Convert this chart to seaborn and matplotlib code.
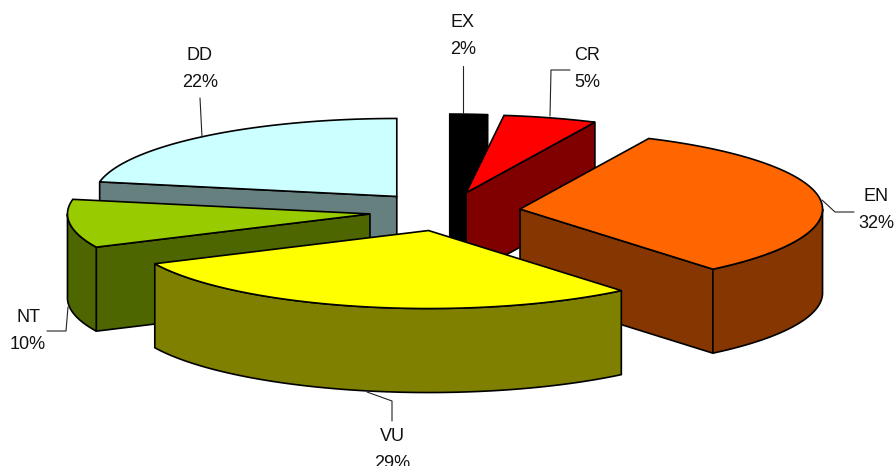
import numpy as np
import matplotlib
matplotlib.use("Agg")
import matplotlib.pyplot as plt
from matplotlib.patches import Polygon
import seaborn as sns

categories = ["EX", "CR", "EN", "VU", "NT", "DD"]
percent = [2, 5, 32, 29, 10, 22]
top_colors = ["#000000", "#FF0000", "#FF6600", "#FFFF00", "#99CC00", "#CCFFFF"]
side_colors = ["#000000", "#800000", "#863600", "#808000", "#4D6600", "#668080"]
draw_order = ["DD", "EX", "CR", "NT", "EN", "VU"]
label_xy = {"EX": (463, 36), "CR": (587, 69), "EN": (876, 210), "VU": (392, 450), "NT": (28, 331), "DD": (200, 69)}
leaders = {"EX": [(463, 66), (463, 113)], "CR": [(570, 70), (551, 70), (550, 116)],
           "EN": [(822, 200), (835, 212), (854, 212)], "VU": [(367, 392), (392, 401), (392, 421)],
           "NT": [(68, 307), (66, 331), (47, 331)], "DD": [(200, 98), (202, 137)]}

CX, CY, RX, RY, H, EXPLODE = 445, 211.5, 302.5, 78, 84, 0.25

sns.set_theme(style="white")
plt.rcParams["font.family"] = ["Liberation Sans", "DejaVu Sans"]
fig = plt.figure(figsize=(8.94, 4.66), dpi=100, facecolor="white")
ax = fig.add_axes([0, 0, 1, 1])
ax.set_xlim(0, 894)
ax.set_ylim(466, 0)
ax.axis("off")

edges = np.cumsum([0] + percent) / sum(percent) * 2 * np.pi
slices = {}
for name, a0, a1, top, side in zip(categories, edges[:-1], edges[1:], top_colors, side_colors):
    slices[name] = (a0, a1, top, side)


def pt(ox, oy, a):
    return (ox + RX * np.sin(a), oy - RY * np.cos(a))


def wall(p, color):
    low = [(x, y + H) for x, y in p[::-1]]
    ax.add_patch(Polygon(list(p) + low, closed=True, fc=color, ec="black", lw=1.2, joinstyle="round"))


for name in draw_order:
    a0, a1, top, side = slices[name]
    mid = (a0 + a1) / 2
    ox = CX + EXPLODE * RX * np.sin(mid)
    oy = CY - EXPLODE * RY * np.cos(mid)
    # radial wall facing the viewer
    if np.sin(a1) > 0:
        wall([(ox, oy), pt(ox, oy, a1)], side)
    if np.sin(a0) < 0:
        wall([(ox, oy), pt(ox, oy, a0)], side)
    # rim wall on the near half of the ellipse
    lo, hi = max(a0, np.pi / 2), min(a1, 3 * np.pi / 2)
    if hi > lo:
        t = np.linspace(lo, hi, 120)
        wall([pt(ox, oy, v) for v in t], side)
    t = np.linspace(a0, a1, 160)
    ax.add_patch(Polygon([(ox, oy)] + [pt(ox, oy, v) for v in t], closed=True, fc=top, ec="black", lw=1.2))

for name, pct in zip(categories, percent):
    x, y = label_xy[name]
    ax.text(x, y, f"{name}\n{pct}%", ha="center", va="center", fontsize=13, color="#111111",
            linespacing=1.72, clip_on=False)
    xs, ys = zip(*leaders[name])
    ax.plot(xs, ys, color="#222222", lw=0.8)

sns.despine(ax=ax, left=True, bottom=True)
fig.savefig("out.png", dpi=100)
